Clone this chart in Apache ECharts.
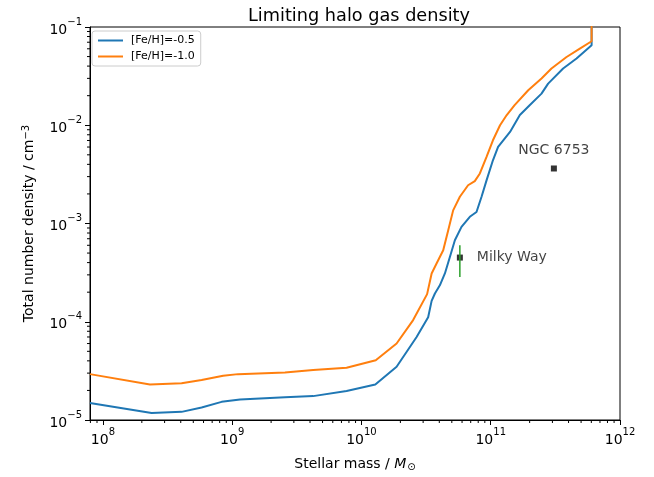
<!DOCTYPE html>
<html>
<head>
<meta charset="utf-8">
<script src="https://cdn.jsdelivr.net/npm/echarts@6/dist/echarts.min.js"></script>
<style>
  html, body { margin: 0; padding: 0; background: #fff; }
  #chart { width: 654px; height: 477px; }
</style>
</head>
<body>
<div id="chart"></div>
<script>
// stellar mass (M_sun) and limiting density (cm^-3), [Fe/H] = -0.5
const massFeH05 = [7.93e7, 2.38e8, 4.06e8, 5.8e8, 8.28e8, 1.15e9, 2.56e9, 4.23e9, 7.67e9, 1.28e10,
  1.87e10, 2.67e10, 3.28e10, 3.49e10, 3.70e10, 4.04e10, 4.42e10, 4.83e10, 5.28e10, 5.94e10,
  6.89e10, 7.76e10, 8.49e10, 9.28e10, 1.04e11, 1.14e11, 1.41e11, 1.68e11, 2.0e11, 2.47e11,
  2.78e11, 3.63e11, 4.61e11, 6.03e11, 6.03e11];
const densFeH05 = [1.49e-5, 1.18e-5, 1.21e-5, 1.34e-5, 1.53e-5, 1.62e-5, 1.70e-5, 1.75e-5, 1.97e-5, 2.30e-5,
  3.48e-5, 7.0e-5, 1.11e-4, 1.63e-4, 1.94e-4, 2.35e-4, 3.10e-4, 4.57e-4, 6.76e-4, 9.23e-4,
  1.17e-3, 1.31e-3, 1.87e-3, 2.75e-3, 4.40e-3, 6.01e-3, 8.55e-3, 1.27e-2, 1.60e-2, 2.10e-2,
  2.65e-2, 3.78e-2, 4.78e-2, 6.52e-2, 1.0];

// [Fe/H] = -1.0
const massFeH10 = [7.93e7, 2.31e8, 4.06e8, 5.8e8, 8.51e8, 1.11e9, 2.56e9, 4.23e9, 7.67e9, 1.29e10,
  1.87e10, 2.51e10, 3.22e10, 3.49e10, 3.81e10, 4.29e10, 4.69e10, 5.12e10, 5.77e10, 6.68e10,
  7.53e10, 8.24e10, 9.28e10, 1.04e11, 1.18e11, 1.33e11, 1.53e11, 1.95e11, 2.47e11, 2.95e11,
  3.86e11, 4.89e11, 6.03e11, 6.03e11];
const densFeH10 = [2.93e-5, 2.30e-5, 2.36e-5, 2.55e-5, 2.82e-5, 2.93e-5, 3.05e-5, 3.22e-5, 3.40e-5, 4.06e-5,
  6.01e-5, 1.04e-4, 1.91e-4, 3.10e-4, 3.92e-4, 5.35e-4, 8.55e-4, 1.36e-3, 1.87e-3, 2.45e-3,
  2.70e-3, 3.23e-3, 4.76e-3, 7.03e-3, 1.0e-2, 1.27e-2, 1.60e-2, 2.27e-2, 2.99e-2, 3.78e-2,
  4.95e-2, 6.03e-2, 7.16e-2, 1.0];

// observed galaxies
const galaxyNames = ['Milky Way', 'NGC 6753'];
const galaxyMass = [5.77e10, 3.08e11];
const galaxyDens = [4.5e-4, 3.63e-3];
const milkyWayRange = [2.86e-4, 6.0e-4];

const xDecades = [8, 9, 10, 11, 12];
const yDecades = [-5, -4, -3, -2, -1];

const FONT = 'DejaVu Sans';
const lg = Math.log10;

function pairs(xs, ys) {
  return xs.map((x, i) => [lg(x), lg(ys[i])]);
}

function minorTicks(lo, hi) {
  let out = [];
  for (let n = lo; n < hi; n++) {
    for (let k = 2; k <= 9; k++) out.push(n + lg(k));
  }
  return out;
}

function powLabel(v) {
  let s = String(Math.round(v)).replace('-', '\u2212');
  return '{b|10}{sup|' + s + '}';
}

const richPow = {
  b: { fontFamily: FONT, fontSize: 14, color: '#000', lineHeight: 20, verticalAlign: 'bottom' },
  sup: { fontFamily: FONT, fontSize: 10, color: '#000', lineHeight: 20, verticalAlign: 'top', padding: [0, 0, 6, 0] }
};

const xMin = 7.9, xMax = 12, yMin = -5, yMax = -1;
const MINOR_LEN = 3;

// minor log ticks, placed through the axes' own scale
function minorTickSeries(dir, values) {
  return {
    type: 'custom', silent: true, clip: false, z: 5,
    data: values.map(v => dir === 'x' ? [v, yMin] : [xMin, v]),
    renderItem: function (params, api) {
      let p = api.coord([api.value(0), api.value(1)]);
      let shape = dir === 'x'
        ? { x1: p[0], y1: p[1], x2: p[0], y2: p[1] + MINOR_LEN }
        : { x1: p[0] - MINOR_LEN, y1: p[1], x2: p[0], y2: p[1] };
      return { type: 'line', shape: shape, style: { stroke: '#000', lineWidth: 1 } };
    }
  };
}

let myChart = echarts.init(document.getElementById('chart'));

let option = {
  animation: false,
  title: {
    text: 'Limiting halo gas density',
    left: 354,
    top: 2,
    textAlign: 'center',
    textStyle: { fontFamily: FONT, fontSize: 17.7, fontWeight: 'normal', color: '#000' }
  },
  legend: {
    data: ['[Fe/H]=-0.5', '[Fe/H]=-1.0'],
    orient: 'vertical',
    left: 92,
    top: 31,
    padding: [4, 6],
    itemGap: 5,
    itemWidth: 25,
    itemHeight: 2,
    icon: 'rect',
    borderColor: '#ccc',
    borderWidth: 1,
    borderRadius: 3,
    textStyle: { fontFamily: FONT, fontSize: 11, color: '#000', padding: [0, 0, 0, 3] }
  },
  grid: {
    left: 90, right: 34, top: 27, bottom: 57,
    show: true, borderColor: '#000', borderWidth: 1
  },
  xAxis: {
    type: 'value', min: xMin, max: xMax,
    name: 'Stellar mass / {it|M}{sub|\u2299}',
    nameLocation: 'middle',
    nameGap: 36,
    nameTextStyle: {
      fontFamily: FONT, fontSize: 14, color: '#000',
      rich: {
        it: { fontFamily: FONT, fontSize: 14, fontStyle: 'italic', color: '#000' },
        sub: { fontFamily: FONT, fontSize: 10, color: '#000', padding: [6, 0, 0, 1] }
      }
    },
    axisLine: { lineStyle: { color: '#000', width: 1 } },
    axisTick: { customValues: xDecades, length: 5, lineStyle: { color: '#000' } },
    axisLabel: { customValues: xDecades, formatter: powLabel, rich: richPow, margin: 7 },
    splitLine: { show: false }
  },
  yAxis: {
    type: 'value', min: yMin, max: yMax, interval: 1,
    name: 'Total number density / cm{sup|\u22123}',
    nameLocation: 'middle',
    nameRotate: 90,
    nameGap: 52,
    nameTextStyle: {
      fontFamily: FONT, fontSize: 14, color: '#000',
      rich: {
        sup: { fontFamily: FONT, fontSize: 10, color: '#000', padding: [0, 0, 7, 0] }
      }
    },
    axisLine: { lineStyle: { color: '#000', width: 1 } },
    axisTick: { customValues: yDecades, length: 5, lineStyle: { color: '#000' } },
    axisLabel: { customValues: yDecades, formatter: powLabel, rich: richPow, margin: 8 },
    splitLine: { show: false }
  },
  series: [
    {
      name: '[Fe/H]=-0.5', type: 'line', showSymbol: false, color: '#1f77b4',
      lineStyle: { width: 2 }, data: pairs(massFeH05, densFeH05)
    },
    {
      name: '[Fe/H]=-1.0', type: 'line', showSymbol: false, color: '#ff7f0e',
      lineStyle: { width: 2 }, data: pairs(massFeH10, densFeH10)
    },
    {
      name: 'Milky Way range', type: 'line', showSymbol: false, color: '#2ca02c', silent: true,
      lineStyle: { width: 1.5 },
      data: milkyWayRange.map(d => [lg(galaxyMass[0]), lg(d)])
    },
    {
      name: 'galaxies', type: 'scatter', symbol: 'rect', symbolSize: 6, color: '#000',
      data: galaxyNames.map((n, i) => ({
        name: n,
        value: [lg(galaxyMass[i]), lg(galaxyDens[i])],
        label: {
          show: true,
          formatter: '{b}',
          position: i === 0 ? 'right' : 'top',
          distance: i === 0 ? 14 : 8,
          fontFamily: FONT, fontSize: 14, color: '#111'
        }
      }))
    },
    minorTickSeries('x', minorTicks(7, 12).filter(v => v > xMin)),
    minorTickSeries('y', minorTicks(-5, -1))
  ]
};

option && myChart.setOption(option);
</script>
</body>
</html>
